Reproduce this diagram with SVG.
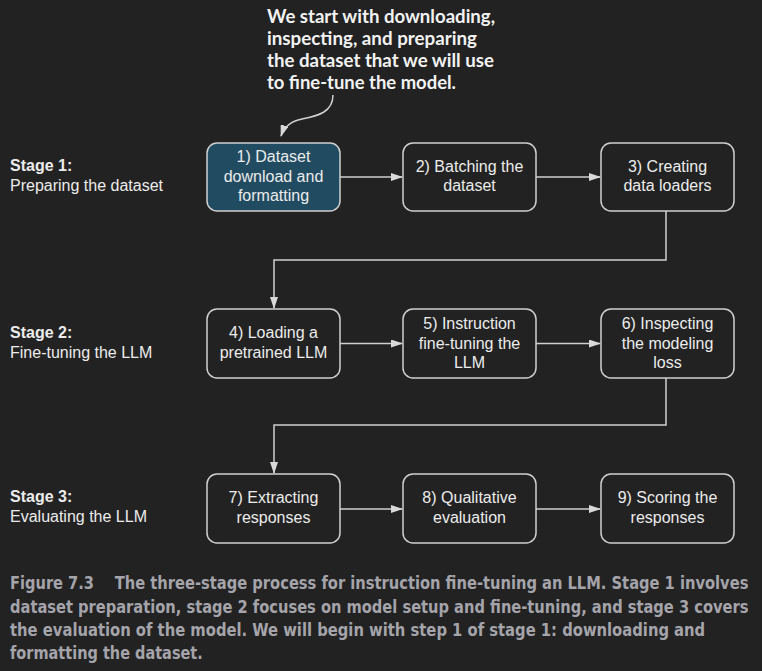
<svg xmlns="http://www.w3.org/2000/svg" width="762" height="671" viewBox="0 0 762 671">
<defs>
<marker id="arr" viewBox="0 0 12 8" refX="11" refY="4" markerWidth="12" markerHeight="8" markerUnits="userSpaceOnUse" orient="auto">
<path d="M0,0 L12,4 L0,8 Z" fill="#d9d9d9"/>
</marker>
<style>
.node{fill:#222222;stroke:#cfcfcf;stroke-width:1.5}
.hl{fill:#214b61}
.nt{font-family:"Liberation Sans",Arial,sans-serif;font-size:16px;fill:#ececec;text-anchor:middle}
.st{font-family:"Liberation Sans",Arial,sans-serif;font-size:16px;fill:#ececec}
.stb{font-weight:bold}
.conn{fill:none;stroke:#cfcfcf;stroke-width:1.5}
.ann{font-family:Lato,"Open Sans",sans-serif;font-size:19px;font-weight:bold;fill:#f2f2f2}
.cap{font-family:"DejaVu Sans Condensed","Liberation Sans",sans-serif;font-size:17px;font-weight:bold;fill:#a4a4aa}
</style>
</defs>
<rect x="0" y="0" width="762" height="671" fill="#222222"/>

<g id="annotation">
<text class="ann" x="267" y="23" textLength="228" lengthAdjust="spacingAndGlyphs">We start with downloading,</text>
<text class="ann" x="267" y="45" textLength="210" lengthAdjust="spacingAndGlyphs">inspecting, and preparing</text>
<text class="ann" x="267" y="67" textLength="227" lengthAdjust="spacingAndGlyphs">the dataset that we will use</text>
<text class="ann" x="267" y="89" textLength="189" lengthAdjust="spacingAndGlyphs">to fine-tune the model.</text>
</g>

<g id="stages">
<text class="st stb" x="10" y="171">Stage 1:</text>
<text class="st" x="10" y="191">Preparing the dataset</text>
<text class="st stb" x="10" y="338">Stage 2:</text>
<text class="st" x="10" y="358">Fine-tuning the LLM</text>
<text class="st stb" x="10" y="502">Stage 3:</text>
<text class="st" x="10" y="522">Evaluating the LLM</text>
</g>

<g id="connectors">
<path class="conn" d="M333,95 C333,112 318,116 302,119 C292,121 284,127 281,136" marker-end="url(#arr)"/>
<path class="conn" d="M340,177 H402" marker-end="url(#arr)"/>
<path class="conn" d="M536,177 H600" marker-end="url(#arr)"/>
<path class="conn" d="M666,211 V260 H274 V308" marker-end="url(#arr)"/>
<path class="conn" d="M340,343.5 H402" marker-end="url(#arr)"/>
<path class="conn" d="M536,343.5 H600" marker-end="url(#arr)"/>
<path class="conn" d="M666,378 V425 H274 V473" marker-end="url(#arr)"/>
<path class="conn" d="M340,509 H402" marker-end="url(#arr)"/>
<path class="conn" d="M536,509 H600" marker-end="url(#arr)"/>
</g>

<g id="n1">
<rect class="node hl" x="207" y="143" width="133" height="68" rx="10"/>
<text class="nt" x="273.5" y="162">1) Dataset</text>
<text class="nt" x="273.5" y="181.5">download and</text>
<text class="nt" x="273.5" y="201">formatting</text>
</g>
<g id="n2">
<rect class="node" x="403" y="143" width="133" height="68" rx="10"/>
<text class="nt" x="469.5" y="171.5">2) Batching the</text>
<text class="nt" x="469.5" y="191">dataset</text>
</g>
<g id="n3">
<rect class="node" x="601" y="143" width="133" height="68" rx="10"/>
<text class="nt" x="667.5" y="171.5">3) Creating</text>
<text class="nt" x="667.5" y="191">data loaders</text>
</g>
<g id="n4">
<rect class="node" x="207" y="309" width="133" height="69" rx="10"/>
<text class="nt" x="273.5" y="338">4) Loading a</text>
<text class="nt" x="273.5" y="357.5">pretrained LLM</text>
</g>
<g id="n5">
<rect class="node" x="403" y="309" width="133" height="69" rx="10"/>
<text class="nt" x="469.5" y="329">5) Instruction</text>
<text class="nt" x="469.5" y="348.5">fine-tuning the</text>
<text class="nt" x="469.5" y="368">LLM</text>
</g>
<g id="n6">
<rect class="node" x="601" y="309" width="133" height="69" rx="10"/>
<text class="nt" x="667.5" y="329">6) Inspecting</text>
<text class="nt" x="667.5" y="348.5">the modeling</text>
<text class="nt" x="667.5" y="368">loss</text>
</g>
<g id="n7">
<rect class="node" x="207" y="474" width="133" height="69" rx="10"/>
<text class="nt" x="273.5" y="503">7) Extracting</text>
<text class="nt" x="273.5" y="522.5">responses</text>
</g>
<g id="n8">
<rect class="node" x="403" y="474" width="133" height="69" rx="10"/>
<text class="nt" x="469.5" y="503">8) Qualitative</text>
<text class="nt" x="469.5" y="522.5">evaluation</text>
</g>
<g id="n9">
<rect class="node" x="601" y="474" width="133" height="69" rx="10"/>
<text class="nt" x="667.5" y="503">9) Scoring the</text>
<text class="nt" x="667.5" y="522.5">responses</text>
</g>

<g id="caption" transform="translate(10 0) scale(0.8 1)">
<text class="cap" x="0" y="589" textLength="105" lengthAdjust="spacingAndGlyphs">Figure 7.3</text>
<text class="cap" x="131" y="589" textLength="792" lengthAdjust="spacingAndGlyphs">The three-stage process for instruction fine-tuning an LLM. Stage 1 involves</text>
<text class="cap" x="0" y="613" textLength="923" lengthAdjust="spacingAndGlyphs">dataset preparation, stage 2 focuses on model setup and fine-tuning, and stage 3 covers</text>
<text class="cap" x="0" y="636" textLength="869" lengthAdjust="spacingAndGlyphs">the evaluation of the model. We will begin with step 1 of stage 1: downloading and</text>
<text class="cap" x="0" y="659" textLength="241" lengthAdjust="spacingAndGlyphs">formatting the dataset.</text>
</g>
</svg>
